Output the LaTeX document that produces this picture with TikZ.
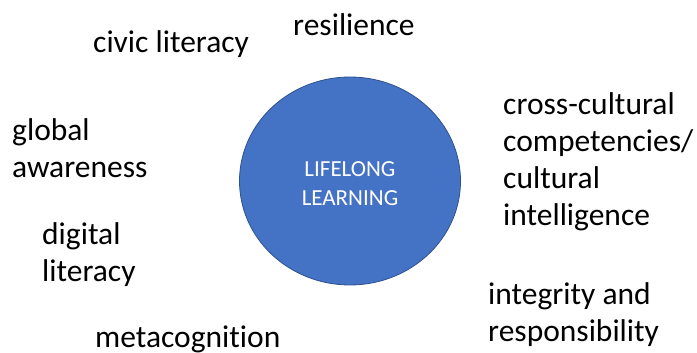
\documentclass[tikz,border=0pt]{standalone}
\usepackage{fontspec}
\setmainfont{Carlito}[Ligatures=NoCommon]
\usepackage{tikz}
\usetikzlibrary{calc}
\usetikzlibrary{positioning}
\usetikzlibrary{shapes.geometric}
\definecolor{hubblue}{HTML}{4472C4}
\definecolor{hubedge}{HTML}{2F528F}
\tikzstyle{hubnode} = [draw=hubedge, fill=hubblue, ellipse, line width=0.8pt, minimum width=221pt, minimum height=208pt, inner sep=0pt]
\tikzstyle{hubtext} = [text=white, font=\fontsize{23}{29}\selectfont, align=center, inner sep=0pt]
\tikzstyle{skillnode} = [anchor=base west, inner sep=0pt, align=left, font=\fontsize{31.5}{37}\selectfont]

\begin{document}
\begin{tikzpicture}[x=1pt, y=-1pt]
\useasboundingbox (0,0) rectangle (697,353);
\node[hubnode] (hub) at (350,181) {};
\node[hubtext] (hub_label) at ($(hub)+(0,3)$) {LIFELONG\\LEARNING};

\node[skillnode] (civic) at ($(hub)+(-257,-128)$) {civic literacy};
\node[skillnode] (resilience) at ($(hub)+(-57,-145)$) {resilience};
\node[skillnode] (global) at ($(hub)+(-338,-4)$) {global\\awareness};
\node[skillnode] (digital) at ($(hub)+(-308,100)$) {digital\\literacy};
\node[skillnode] (meta) at ($(hub)+(-255,166)$) {metacognition};
\node[skillnode] (cross) at ($(hub)+(153,44)$) {cross-cultural\\competencies/\\cultural\\intelligence};
\node[skillnode] (integrity) at ($(hub)+(138,160)$) {integrity and\\responsibility};
\end{tikzpicture}
\end{document}
